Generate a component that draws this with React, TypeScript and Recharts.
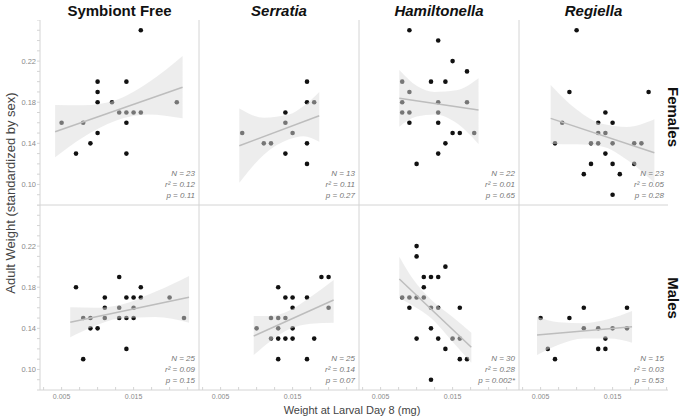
import { ComposedChart, Scatter, Area, Line, XAxis, YAxis } from 'recharts';

type Pt = [number, number];
type BandPt = [number, number, number];

const columnTitles = ['Symbiont Free', 'Serratia', 'Hamiltonella', 'Regiella'];
const rowTitles = ['Females', 'Males'];
const rowTitleY = [117, 298];
const sampleSizes = [[23, 13, 22, 23], [25, 25, 30, 15]];
const rSquared = [['0.12', '0.11', '0.01', '0.05'], ['0.09', '0.14', '0.28', '0.03']];
const pValues = [['0.11', '0.27', '0.65', '0.28'], ['0.15', '0.07', '0.002*', '0.53']];

const xTicks = [0.0025, 0.005, 0.0075, 0.01, 0.0125, 0.015, 0.0175, 0.02, 0.0225];
const xTickLabels = [0.005, 0.015];
const yTicks = [0.08, 0.09, 0.1, 0.11, 0.12, 0.13, 0.14, 0.15, 0.16, 0.17, 0.18, 0.19, 0.2, 0.21, 0.22, 0.23, 0.24, 0.25, 0.26];
const yTickLabels = [0.1, 0.14, 0.18, 0.22];

// points: [larval weight, adult weight]
const symbiontFreeFemales: Pt[] = [
    [0.005, 0.16], [0.007, 0.13], [0.008, 0.16], [0.009, 0.14], [0.01, 0.2], [0.01, 0.19], [0.01, 0.18], [0.01, 0.15],
    [0.012, 0.18], [0.013, 0.17], [0.014, 0.2], [0.014, 0.17], [0.014, 0.16], [0.014, 0.13], [0.015, 0.17], [0.016, 0.17],
    [0.016, 0.25], [0.021, 0.18],
];
const serratiaFemales: Pt[] = [
    [0.008, 0.15], [0.011, 0.14], [0.012, 0.14], [0.014, 0.17], [0.014, 0.16], [0.014, 0.13], [0.015, 0.15],
    [0.017, 0.2], [0.017, 0.18], [0.017, 0.14], [0.017, 0.12], [0.018, 0.18],
];
const hamiltonellaFemales: Pt[] = [
    [0.009, 0.25], [0.013, 0.24], [0.015, 0.22], [0.017, 0.21], [0.008, 0.2], [0.012, 0.2], [0.014, 0.2], [0.009, 0.19],
    [0.008, 0.18], [0.013, 0.18], [0.017, 0.18], [0.008, 0.17], [0.009, 0.17], [0.013, 0.17], [0.009, 0.16], [0.013, 0.16],
    [0.015, 0.15], [0.016, 0.15], [0.018, 0.15], [0.014, 0.14], [0.013, 0.13], [0.01, 0.12],
];
const regiellaFemales: Pt[] = [
    [0.01, 0.25], [0.009, 0.19], [0.02, 0.19], [0.014, 0.17], [0.008, 0.16], [0.013, 0.16], [0.015, 0.16], [0.013, 0.15],
    [0.014, 0.15], [0.007, 0.14], [0.012, 0.14], [0.013, 0.14], [0.015, 0.14], [0.018, 0.14], [0.019, 0.14], [0.014, 0.13],
    [0.012, 0.12], [0.015, 0.12], [0.018, 0.12], [0.011, 0.11], [0.016, 0.11], [0.015, 0.09],
];
const symbiontFreeMales: Pt[] = [
    [0.007, 0.18], [0.008, 0.15], [0.009, 0.15], [0.009, 0.14], [0.01, 0.14], [0.008, 0.11], [0.011, 0.17], [0.011, 0.16],
    [0.011, 0.15], [0.013, 0.19], [0.013, 0.16], [0.013, 0.15], [0.014, 0.17], [0.014, 0.15], [0.014, 0.12], [0.015, 0.17],
    [0.015, 0.16], [0.015, 0.15], [0.016, 0.18], [0.016, 0.17], [0.02, 0.17], [0.022, 0.15],
];
const serratiaMales: Pt[] = [
    [0.01, 0.14], [0.012, 0.15], [0.012, 0.13], [0.013, 0.18], [0.013, 0.15], [0.013, 0.14], [0.013, 0.13], [0.013, 0.11],
    [0.014, 0.17], [0.014, 0.15], [0.014, 0.13], [0.015, 0.17], [0.015, 0.16], [0.015, 0.14], [0.015, 0.13], [0.017, 0.17],
    [0.017, 0.11], [0.018, 0.13], [0.019, 0.19], [0.02, 0.19], [0.02, 0.16],
];
const hamiltonellaMales: Pt[] = [
    [0.01, 0.22], [0.01, 0.21], [0.014, 0.2], [0.011, 0.19], [0.012, 0.19], [0.013, 0.19], [0.011, 0.18], [0.008, 0.17],
    [0.009, 0.17], [0.01, 0.17], [0.011, 0.17], [0.009, 0.16], [0.012, 0.16], [0.013, 0.16], [0.016, 0.16], [0.012, 0.14],
    [0.01, 0.13], [0.013, 0.13], [0.015, 0.13], [0.016, 0.13], [0.014, 0.12], [0.016, 0.11], [0.017, 0.11], [0.012, 0.09],
];
const regiellaMales: Pt[] = [
    [0.005, 0.15], [0.006, 0.12], [0.007, 0.11], [0.009, 0.15], [0.011, 0.16], [0.011, 0.14], [0.013, 0.14], [0.013, 0.12],
    [0.014, 0.13], [0.014, 0.12], [0.015, 0.14], [0.017, 0.16], [0.017, 0.14],
];

// confidence bands: [x, low, high]; fit lines: value at first and last band x
const symbiontFreeFemalesBand: BandPt[] = [[0.0041, 0.1264, 0.1773], [0.008, 0.146, 0.177], [0.0125, 0.162, 0.182], [0.017, 0.168, 0.199], [0.0218, 0.1643, 0.225]];
const serratiaFemalesBand: BandPt[] = [[0.0076, 0.1017, 0.174], [0.011, 0.129, 0.165], [0.0145, 0.144, 0.168], [0.0165, 0.147, 0.176], [0.0187, 0.1416, 0.19]];
const hamiltonellaFemalesBand: BandPt[] = [[0.0076, 0.1562, 0.2114], [0.01, 0.166, 0.196], [0.0125, 0.168, 0.19], [0.0155, 0.16, 0.1916], [0.0186, 0.1394, 0.2033]];
const regiellaFemalesBand: BandPt[] = [[0.0064, 0.1394, 0.1968], [0.01, 0.139, 0.173], [0.0135, 0.137, 0.159], [0.017, 0.124, 0.156], [0.0208, 0.1017, 0.1634]];
const symbiontFreeMalesBand: BandPt[] = [[0.0062, 0.1313, 0.1604], [0.0095, 0.142, 0.16], [0.013, 0.1495, 0.1625], [0.018, 0.151, 0.1755], [0.0227, 0.1455, 0.1909]];
const serratiaMalesBand: BandPt[] = [[0.0096, 0.114, 0.152], [0.012, 0.128, 0.152], [0.0145, 0.139, 0.157], [0.0175, 0.1445, 0.1705], [0.0207, 0.1455, 0.187]];
const hamiltonellaMalesBand: BandPt[] = [[0.0076, 0.1698, 0.2097], [0.0095, 0.162, 0.188], [0.012, 0.15, 0.168], [0.015, 0.127, 0.151], [0.0176, 0.1066, 0.1357]];
const regiellaMalesBand: BandPt[] = [[0.0045, 0.114, 0.1513], [0.0075, 0.124, 0.146], [0.011, 0.13, 0.145], [0.0145, 0.13, 0.149], [0.0177, 0.126, 0.1568]];

const symbiontFreeFemalesFit = [0.1513, 0.1945];
const serratiaFemalesFit = [0.1377, 0.1669];
const hamiltonellaFemalesFit = [0.1838, 0.1724];
const regiellaFemalesFit = [0.1643, 0.1309];
const symbiontFreeMalesFit = [0.1459, 0.1702];
const serratiaMalesFit = [0.1325, 0.1676];
const hamiltonellaMalesFit = [0.188, 0.1216];
const regiellaMalesFit = [0.1335, 0.1416];

const points = [
    [symbiontFreeFemales, serratiaFemales, hamiltonellaFemales, regiellaFemales],
    [symbiontFreeMales, serratiaMales, hamiltonellaMales, regiellaMales],
];
const bands = [
    [symbiontFreeFemalesBand, serratiaFemalesBand, hamiltonellaFemalesBand, regiellaFemalesBand],
    [symbiontFreeMalesBand, serratiaMalesBand, hamiltonellaMalesBand, regiellaMalesBand],
];
const fits = [
    [symbiontFreeFemalesFit, serratiaFemalesFit, hamiltonellaFemalesFit, regiellaFemalesFit],
    [symbiontFreeMalesFit, serratiaMalesFit, hamiltonellaMalesFit, regiellaMalesFit],
];

const FONT = 'Arial, "Liberation Sans", sans-serif';
const AXIS = '#d4d4d4';
const COL_LEFT = [40, 199, 359, 519];
const COL_W = [159, 160, 160, 149];
const ROW_TOP = [20, 205];
const ROW_H = 185;
const PX_PER_UNIT = 7200;

function XTick({ x, y, payload }: any) {
    const show = xTickLabels.some(v => Math.abs(v - payload.value) < 1e-9);
    return (
        <g>
            <line x1={x} x2={x} y1={y - 3} y2={y} stroke={AXIS} />
            {show && <text x={x} y={y + 9} textAnchor="middle" fontSize={7} fill="#8a8a8a" fontFamily={FONT}>{payload.value.toFixed(3)}</text>}
        </g>
    );
}

function YTick({ x, y, payload }: any) {
    const show = yTickLabels.some(v => Math.abs(v - payload.value) < 1e-9);
    return (
        <g>
            <line x1={x - 3} x2={x} y1={y} y2={y} stroke={AXIS} />
            {show && <text x={x - 4} y={y + 2.5} textAnchor="end" fontSize={7.5} fill="#8a8a8a" fontFamily={FONT}>{payload.value.toFixed(2)}</text>}
        </g>
    );
}

const Dot = (p: any) => <circle cx={p.cx} cy={p.cy} r={2.3} fill="#111" />;

function Panel({ row, col }: { row: number; col: number }) {
    const yW = col === 0 ? 40 : 5;
    const xH = row === 1 ? 22 : 5;
    const w = COL_W[col];
    const xMax = 0.002 + w / PX_PER_UNIT;
    const band = bands[row][col];
    const fit = fits[row][col];
    const rows = band.map((b, i) => ({
        x: b[0],
        band: [b[1], b[2]],
        fit: i === 0 ? fit[0] : i === band.length - 1 ? fit[1] : null,
    }));
    const pts = points[row][col].map(([x, y]) => ({ x, y }));
    return (
        <div style={{ position: 'absolute', left: COL_LEFT[col] - yW, top: ROW_TOP[row] }}>
            <ComposedChart width={w + yW + 2} height={ROW_H + xH} data={rows} margin={{ top: 0, right: 2, left: 0, bottom: 0 }}>
                <XAxis type="number" dataKey="x" domain={[0.002, xMax]} allowDataOverflow height={xH}
                    ticks={row === 1 ? xTicks : []} interval={0} tick={row === 1 ? <XTick /> : false}
                    tickLine={false} tickSize={0} tickMargin={0} axisLine={{ stroke: AXIS }} />
                <YAxis type="number" dataKey="y" domain={[0.08, 0.26]} allowDataOverflow width={yW}
                    ticks={col === 0 ? yTicks : []} interval={0} tick={col === 0 ? <YTick /> : false}
                    tickLine={false} tickSize={0} tickMargin={0} axisLine={{ stroke: AXIS }} />
                <Scatter data={pts} shape={Dot} isAnimationActive={false} zIndex={100} />
                <Area type="monotone" dataKey="band" stroke="none" fill="#dcdcdc" fillOpacity={0.5}
                    isAnimationActive={false} activeDot={false} zIndex={700} />
                <Line type="linear" dataKey="fit" stroke="#bdbdbd" strokeWidth={1.5} dot={false} connectNulls
                    isAnimationActive={false} activeDot={false} zIndex={800} />
            </ComposedChart>
        </div>
    );
}

export default function App() {
    return (
        <div style={{ position: 'absolute', left: 0, top: 0, width: 685, height: 419, background: '#fff', fontFamily: FONT }}>
            {[0, 1].map(r => [0, 1, 2, 3].map(c => <Panel key={`${r}-${c}`} row={r} col={c} />))}
            <svg width={685} height={419} style={{ position: 'absolute', left: 0, top: 0, pointerEvents: 'none' }} fontFamily={FONT}>
                {columnTitles.map((t, c) => (
                    <text key={t} x={COL_LEFT[c] + COL_W[c] / 2} y={16} textAnchor="middle" fontSize={15} fontWeight="bold"
                        fontStyle={c === 0 ? 'normal' : 'italic'} fill="#111">{t}</text>
                ))}
                {rowTitles.map((t, r) => (
                    <text key={t} x={668} y={rowTitleY[r]} textAnchor="middle" fontSize={15} fontWeight="bold" fill="#111"
                        transform={`rotate(90 668 ${rowTitleY[r]})`}>{t}</text>
                ))}
                {[0, 1].map(r => [0, 1, 2, 3].map(c => {
                    const x = COL_LEFT[c] + COL_W[c] - 4;
                    const y0 = ROW_TOP[r] + 156;
                    return (
                        <g key={`s${r}${c}`} fontSize={8} fontStyle="italic" fill="#777" textAnchor="end">
                            <text x={x} y={y0}>N = {sampleSizes[r][c]}</text>
                            <text x={x} y={y0 + 11}>r² = {rSquared[r][c]}</text>
                            <text x={x} y={y0 + 22}>p = {pValues[r][c]}</text>
                        </g>
                    );
                }))}
                <text x={15} y={193} textAnchor="middle" fontSize={13} fill="#444" transform="rotate(-90 15 193)">Adult Weight (standardized by sex)</text>
                <text x={352} y={414} textAnchor="middle" fontSize={11} fill="#444">Weight at Larval Day 8 (mg)</text>
            </svg>
        </div>
    );
}
